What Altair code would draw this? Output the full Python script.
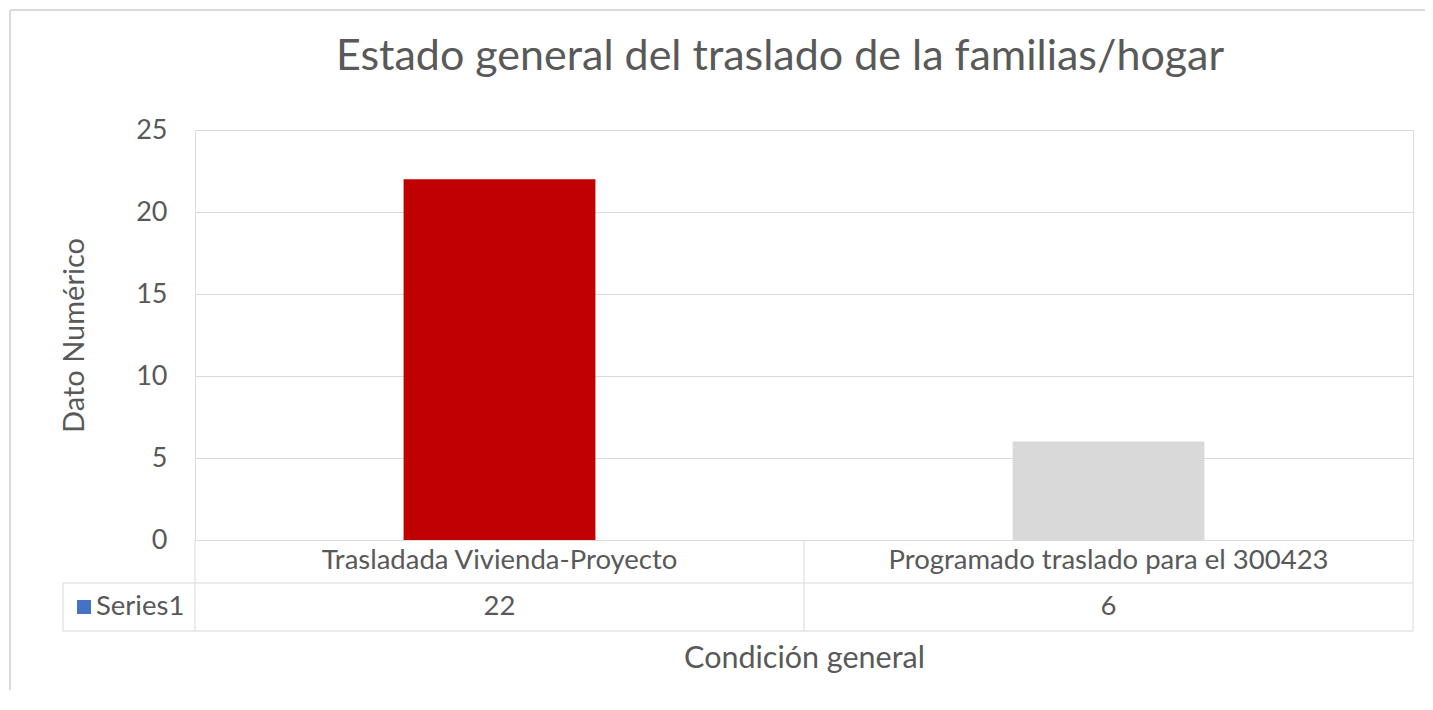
import altair as alt
import pandas as pd

categories = ["Trasladada Vivienda-Proyecto", "Programado traslado para el 300423"]
values = [22, 6]
bar_colors = ["#C00000", "#D9D9D9"]
series_name = "Series1"
y_ticks = [0, 5, 10, 15, 20, 25]
chart_title = "Estado general del traslado de la familias/hogar"

df = pd.DataFrame({"cat": categories, "val": values, "color": bar_colors})

W, H = 1218, 410
FONT = "Lato"
TXT = "#595959"
LINE = "#D9D9D9"
FS = 27.5

x_enc = alt.X("cat:N", sort=categories,
              scale=alt.Scale(paddingInner=0, paddingOuter=0),
              axis=alt.Axis(labels=False, ticks=False, domain=True, domainColor=LINE,
                            title="Condición general", titleFont=FONT, titleFontSize=30.5,
                            titleFontWeight="normal", titleColor=TXT, titlePadding=103))

bars = alt.Chart(df).mark_bar(width=alt.RelativeBandSize(0.315)).encode(
    x=x_enc,
    y=alt.Y("val:Q", scale=alt.Scale(domain=[0, 25]),
            axis=alt.Axis(values=y_ticks, grid=True, gridColor=LINE, domain=False, ticks=False,
                          labelFont=FONT, labelFontSize=27, labelColor=TXT, labelPadding=28,
                          title="Dato Numérico", titleFont=FONT, titleFontSize=29,
                          titleFontWeight="normal", titleColor=TXT, titlePadding=46)),
    color=alt.Color("color:N", scale=None),
)

cat_text = alt.Chart(df).mark_text(font=FONT, fontSize=FS, color=TXT).encode(
    x=alt.X("cat:N", sort=categories), y=alt.value(H + 21), text="cat:N")
val_text = alt.Chart(df).mark_text(font=FONT, fontSize=FS, color=TXT).encode(
    x=alt.X("cat:N", sort=categories), y=alt.value(H + 67), text="val:Q")

# table grid lines
vlines = alt.Chart(df).mark_rule(color=LINE).encode(
    x=alt.X("cat:N", sort=categories, bandPosition=0), y=alt.value(H), y2=alt.value(H + 91))
vline_right = alt.Chart(df.head(1)).mark_rule(color=LINE).encode(
    x=alt.value(W), y=alt.value(H), y2=alt.value(H + 91))
vline_left = alt.Chart(df.head(1)).mark_rule(color=LINE).encode(
    x=alt.value(-132), y=alt.value(H + 43), y2=alt.value(H + 91))
hline_mid = alt.Chart(df.head(1)).mark_rule(color=LINE).encode(
    x=alt.value(-132), x2=alt.value(W), y=alt.value(H + 43))
hline_bot = alt.Chart(df.head(1)).mark_rule(color=LINE).encode(
    x=alt.value(-132), x2=alt.value(W), y=alt.value(H + 91))

legend_sq = alt.Chart(df.head(1)).mark_square(size=196, color="#4472C4", opacity=1).encode(
    x=alt.value(-111), y=alt.value(H + 67))
legend_txt = alt.Chart(pd.DataFrame({"s": [series_name]})).mark_text(
    font=FONT, fontSize=FS, color=TXT, align="left").encode(
    x=alt.value(-99), y=alt.value(H + 67), text="s:N")

title_txt = alt.Chart(pd.DataFrame({"t": [chart_title]})).mark_text(
    font=FONT, fontSize=43, color=TXT, align="center", baseline="alphabetic").encode(
    x=alt.value(W / 2 - 24), y=alt.value(-60), text="t:N")

# outer chart border (top and left)
border_top = alt.Chart(df.head(1)).mark_rule(color=LINE, strokeWidth=2).encode(
    x=alt.value(-185), x2=alt.value(W + 30), y=alt.value(-120))
border_left = alt.Chart(df.head(1)).mark_rule(color=LINE, strokeWidth=2).encode(
    x=alt.value(-185), y=alt.value(-120), y2=alt.value(H + 200))

chart = alt.layer(
    border_top, border_left, vlines, vline_right, vline_left, hline_mid, hline_bot,
    bars, cat_text, val_text, legend_sq, legend_txt, title_txt,
).properties(
    width=W, height=H,
    autosize=alt.AutoSizeParams(type="none"),
    padding={"left": 187, "top": 122, "right": 12, "bottom": 150},
).configure_view(stroke=None).configure(background="white")

chart.save("out.html", embed_options={"renderer": "svg", "actions": False})
